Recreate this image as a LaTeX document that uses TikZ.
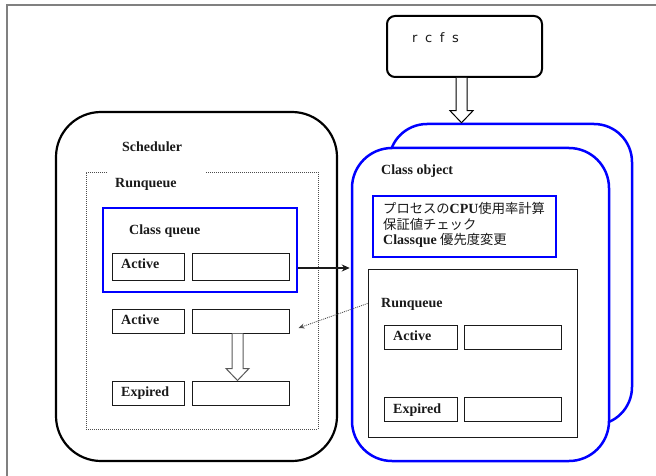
\documentclass[tikz,border=0pt]{standalone}
\usepackage{fontspec}
\setmainfont{Liberation Serif}
\newfontfamily\jpfont{Noto Sans CJK JP}
\newfontfamily\rcfsfont{DejaVu Sans}
\usetikzlibrary{arrows.meta,calc}

\definecolor{ink}{HTML}{1A1A1A}
\definecolor{pureblue}{RGB}{0,0,255}
\definecolor{framegray}{HTML}{808080}

\tikzset{
  cell/.style n args={2}{draw=ink, line width=1pt, inner sep=0pt,
    minimum width=#1, minimum height=#2},
  bluebox/.style n args={2}{draw=pureblue, line width=2.2pt, fill=white,
    inner sep=0pt, minimum width=#1, minimum height=#2},
  lbl/.style={anchor=base west, inner sep=0pt, text=ink,
    font=\fontsize{14}{16}\selectfont\bfseries},
  jpline/.style={anchor=base west, inner sep=0pt, text=ink,
    font=\fontsize{13.3}{15}\selectfont},
  dotline/.style={draw=black!70, line width=0.8pt, dash pattern=on 1pt off 1pt},
  hollow/.style={fill=white, line width=1pt},
}

% downward block arrow: shaft from the start point, tip at the end point
\newcommand\hollowdown[3]{%
  \draw[#1] let \p1=(#2), \p2=(#3) in
    (\x2-5.5pt,\y1) -- (\x2-5.5pt,\y2+12pt) -- (\x2-11.5pt,\y2+12pt)
    -- (\x2,\y2) -- (\x2+11.5pt,\y2+12pt) -- (\x2+5.5pt,\y2+12pt)
    -- (\x2+5.5pt,\y1);}

\begin{document}
\begin{tikzpicture}[x=1pt,y=-1pt]
\useasboundingbox (0,0) rectangle (656,476);

% page frame
\draw[framegray, line width=1.3pt] (7,476) -- (7,5) -- (656,5);

% ---------- rcfs ----------
\node[draw=black, line width=2pt, rounded corners=8pt, inner sep=0pt,
      minimum width=155pt, minimum height=61pt] (rcfs) at (464.5,46.5) {};
\node[anchor=base west, inner sep=0pt, text=ink,
      font=\rcfsfont\fontsize{13}{15}\selectfont] (rcfstext) at (412,43)
      {\spaceskip=7.6pt r c f s};

% ---------- class objects (back and front) ----------
\node[draw=pureblue, line width=2.5pt, fill=white, rounded corners=38pt,
      inner sep=0pt, minimum width=243pt, minimum height=301pt]
      (cback) at (510.5,274.5) {};
\node[draw=pureblue, line width=2.5pt, fill=white, rounded corners=40pt,
      inner sep=0pt, minimum width=257pt, minimum height=313pt]
      (cobj) at (480.5,304.5) {};
\node[lbl] (cobjtext) at (381,175) {Class object};

\node[bluebox={183pt}{61pt}] (jpbox) at (464.5,226.5) {};
\node[jpline] (jp1) at (383,213)
  {\jpfont プロセスの{\rmfamily\bfseries\fontsize{14}{15}\selectfont CPU}使用率計算};
\node[jpline] (jp2) at (383,229) {\jpfont 保証値チェック};
\node[jpline] (jp3) at (383,244)
  {{\bfseries\fontsize{14}{15}\selectfont Classque} \jpfont 優先度変更};

\node[cell={209pt}{168pt}, fill=white] (rq2) at (472.5,353) {};
\node[lbl] (rq2text) at (381,307) {Runqueue};
\node[cell={73pt}{24pt}] (raL) at (420.5,337) {};
\node[cell={97pt}{24pt}] (raR) at (512.5,337) {};
\node[cell={73pt}{24pt}] (reL) at (420.5,409) {};
\node[cell={97pt}{24pt}] (reR) at (512.5,409) {};
\node[lbl] (raText) at (393,340) {Active};
\node[lbl] (reText) at (393,413) {Expired};

% ---------- scheduler ----------
\node[draw=black, line width=2.2pt, rounded corners=45pt, inner sep=0pt,
      minimum width=281pt, minimum height=349pt] (sched) at (196.5,286.5) {};
\node[lbl] (schedtext) at (122,152) {Scheduler};

% dotted run-queue frame, open behind its title
\draw[dotline] (107,172) -| (86,429) -| (318,172) -- (205,172);
\node[lbl] (rq1text) at (115,187) {Runqueue};

\node[bluebox={194pt}{84pt}] (cq) at (200,250) {};
\node[lbl] (cqtext) at (129,234) {Class queue};
\node[cell={72pt}{27pt}] (aL1) at (148,266.5) {};
\node[cell={97pt}{27pt}] (aR1) at (240.5,266.5) {};
\node[lbl] (a1text) at (121,268) {Active};

\node[cell={72pt}{24pt}] (aL2) at (148,321) {};
\node[cell={97pt}{24pt}] (aR2) at (240.5,321) {};
\node[lbl] (a2text) at (121,324) {Active};
\node[cell={72pt}{24pt}] (eL) at (148,393) {};
\node[cell={97pt}{24pt}] (eR) at (240.5,393) {};
\node[lbl] (e2text) at (121,396) {Expired};

% ---------- connectors ----------
\coordinate (rsrc) at ($(rcfs.south)+(-3,0)$);
\coordinate (rtip) at (rsrc |- cback.north);
\hollowdown{hollow, draw=black}{rsrc}{rtip}

\coordinate (asrc) at ($(aR2.south)+(-3,0)$);
\coordinate (atip) at (asrc |- eR.north);
\hollowdown{hollow, draw=black!65}{asrc}{atip}

\draw[line width=2pt, ink, -{Stealth[length=8pt,width=7pt]}]
  ($(aR1.east -| cq.east)+(0,1.5)$) -- ($(aR1.east -| cobj.west)+(-1,1.5)$);

\coordinate (dotend) at ($(aR2.east)+(9,7)$);
\draw[dotline, -{Stealth[length=6pt,width=5pt,fill=black!70]}]
  ($(rq2.north west)+(0,35)$) -- (dotend);
\end{tikzpicture}
\end{document}
